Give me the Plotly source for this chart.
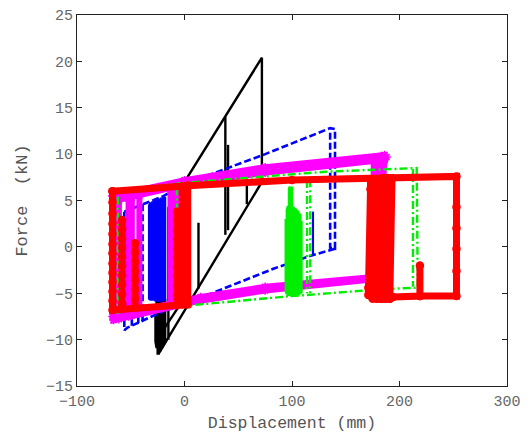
import plotly.graph_objects as go

N = None
# ---- data (displacement mm, force kN) ----
black_x = [-24, 72, 72, -15, -15, N, 38, 38, N, 40.5, 40.5, N, 58, 58, N, 13, 13, N,
           -27, -27, -26, -26, -25, -25, -24, -24, -23, -23, -22, -22, -21, -21,
           -20, -20, -19, -19, -18, -18, N, -20, -4]
black_y = [-11.5, 7.0, 20.4, 4.2, -10.0, N, 14.0, 1.3, N, 11.0, 1.8, N, 6.6, 4.6, N, 2.6, -4.5, N,
           -6.2, -10.2, -10.9, -5.9, -5.8, -11.5, -11.5, -5.8, -5.8, -11.3, -11.1, -5.7, -5.7, -10.9,
           -10.7, -5.6, -5.6, -10.5, -10.3, -5.6, N, -9.0, -6.2]

# blue: main loop (dashed)
blue_x = [-56, -21, 3, 75, 135.5, 140, 140, 135.5, 135.5, N,
          140, 119, 84, 14.6, -4, -53, -56, -56, N,
          -49, -49, N, -43, -43, N, -39, -39]
blue_y = [3.8, 5.4, 6.9, 10.0, 12.8, 12.7, -0.2, -0.1, 12.5, N,
          -0.2, -0.9, -2.3, -5.5, -6.1, -8.7, -9.0, 3.8, N,
          4.1, -8.5, N, 4.4, -8.2, N, 4.6, -8.0]
# blue: overlapping repeated small cycles (appear solid)
blue_dense_x = [-33, -33, -32, -32, -31, -31, -30, -30, -29, -29, -28, -28, -27, -27,
                -26, -26, -25, -25, -24, -24, -23, -23, -22, -22, -21, -21, -20, -20,
                -19, -19, -18, -18, N, 119.5, 119.5]
blue_dense_y = [4.6, -5.6, -5.7, 4.7, 4.7, -5.7, -5.7, 4.8, 4.8, -5.7, -5.7, 4.9, 4.9, -5.8,
                -5.8, 5.0, 5.0, -5.8, -5.8, 5.1, 5.1, -5.8, -5.8, 5.2, 5.2, -5.8, -5.8, 5.3,
                5.3, -5.7, -5.7, 5.4, N, 3.8, -0.9]

magenta_x = [-67, 0, 75, 186, 181, 75, 15, -67, -67, N,
             -64, 0, 75, 180, 176, 75, 15, -66, -64, N,
             -61, -61, N, -52, -52, N, -49, -49, N, -42, -42, N,
             -13, -13, -10, -10, -7, -7, -4, -4, -1, -1, N,
             176, 176, N, 183, 183, 188]
magenta_y = [5.5, 7.2, 8.6, 9.9, -3.2, -4.3, -5.4, -7.5, 5.5, N,
             5.0, 6.7, 8.0, 9.3, -3.5, -4.7, -5.8, -7.9, 5.0, N,
             5.0, -7.8, N, 5.2, -7.5, N, 5.3, -7.4, N, 5.5, -7.2, N,
             6.1, -6.3, -6.2, 6.2, 6.3, -6.1, -6.0, 6.4, 6.5, -5.9, N,
             9.5, 6.6, N, 9.8, 8.0, 9.7]

green_x = [-67, 0, 75, 131, 216, 217, 196, 168, 112, 100, 15, -67, -67, N,
           212.5, 212.5, N, 100, 100, N,
           114, 114, N, 117, 117, N, -7, -7, N, -62, -62]
green_y = [6.0, 6.9, 7.6, 8.1, 8.5, -4.4, -4.5, -4.7, -5.2, -5.3, -6.2, -7.0, 6.0, N,
           8.4, -4.3, N, 6.5, -5.3, N,
           7.2, -5.0, N, 7.3, -5.0, N, 6.4, -6.2, N, 5.4, -7.2]
green_dense_x = [94, 94, 95, 95, 96, 96, 97, 97, 98, 98, 99, 99, 100, 100, 101, 101,
                 102, 102, 103, 103, 104, 104, 105, 105, 106, 106, 107, 107, 108, 108, 109, 109]
green_dense_y = [3.0, -4.8, -5.1, 4.0, 4.4, -5.2, -5.2, 6.3, 6.5, -5.2, -5.3, 4.4, 6.4, -5.3, -5.3, 4.3,
                 4.2, -5.3, -5.2, 4.1, 4.0, -5.2, -5.2, 3.9, 3.8, -5.1, -5.1, 3.6, 3.4, -5.0, -4.9, 2.8]

red_x = [-67, 3, 100, 253, 253, 253, 253, 253, 253, 219, 219, 219, 194, N,
         3, 3, -67, -67, -67, -67, -67, -67, -67, -67, -67, -67, -67, -67, -67, N,
         -58, -58, -58, -58, -58, -58, -58, -58, -58, -58, -58, N,
         -46, -46, -46, -46, -46, -46, -46, -46, N,
         -7, -7, -7, -7, -7, -7, -7, -7, -7, -7, -7, N, -2, -2, N,
         171, 171, 173, 173, 175, 175, 177, 177, 179, 179, 181, 181, 183, 183,
         185, 185, 187, 187, 189, 189, 191, 191, 193, 193, 195]
red_y = [6.0, 6.6, 7.2, 7.6, 4.3, 2.0, -0.2, -2.6, -5.3, -5.3, -2.0, -5.3, -5.4, N,
         6.6, -6.2, -6.8, -5.8, -4.8, -3.8, -2.8, -1.8, -0.7, 0.3, 1.4, 2.5, 3.6, 4.8, 6.0, N,
         2.9, 1.9, 0.9, -0.1, -1.1, -2.1, -3.1, -4.1, -5.1, -6.1, -6.7, N,
         0.4, -0.6, -1.6, -2.6, -3.6, -4.6, -5.6, -6.6, N,
         3.8, 2.8, 1.8, 0.8, -0.2, -1.2, -2.2, -3.2, -4.2, -5.2, -6.3, N, 6.5, -6.2,
         4.0, -4.4, -5.2, 6.2, 7.2, -5.5, -5.6, 7.3, 7.3, -5.6, -5.6, 7.3, 7.3, -5.6,
         -5.6, 7.4, 7.4, -5.6, -5.6, 7.4, 7.4, -5.6, -5.6, 7.4, 7.4]

x_ticks = [-100, 0, 100, 200, 300]
y_ticks = [-15, -10, -5, 0, 5, 10, 15, 20, 25]

fig = go.Figure()
fig.add_trace(go.Scatter(x=black_x, y=black_y, mode="lines",
                         line=dict(color="black", width=2.4)))
fig.add_trace(go.Scatter(x=blue_x, y=blue_y, mode="lines",
                         line=dict(color="#0000ff", width=2.6, dash="7px,3px")))
fig.add_trace(go.Scatter(x=blue_dense_x, y=blue_dense_y, mode="lines",
                         line=dict(color="#0000ff", width=2.2)))
fig.add_trace(go.Scatter(x=magenta_x, y=magenta_y, mode="lines+markers",
                         line=dict(color="#ff00ff", width=6),
                         marker=dict(symbol="asterisk-open", size=7,
                                     line=dict(color="#ff00ff", width=1.5))))
fig.add_trace(go.Scatter(x=green_x, y=green_y, mode="lines",
                         line=dict(color="#00ee00", width=2.4, dash="8px,3px,2px,3px")))
fig.add_trace(go.Scatter(x=green_dense_x, y=green_dense_y, mode="lines",
                         line=dict(color="#00ee00", width=2)))
fig.add_trace(go.Scatter(x=red_x, y=red_y, mode="lines+markers",
                         line=dict(color="#ff0000", width=7),
                         marker=dict(symbol="circle", size=8.5, color="#ff0000")))

axis_common = dict(
    showgrid=False, zeroline=False, showline=True, linecolor="#222", linewidth=1,
    mirror="allticks", ticks="inside", ticklen=5, tickcolor="#222", automargin=False,
    tickfont=dict(family="Liberation Mono", size=15, color="#666"),
)
fig.update_xaxes(range=[-100, 300], tickvals=x_ticks, ticklabelstandoff=1, **axis_common,
                 title=dict(text="Displacement (mm)", standoff=8,
                            font=dict(family="Liberation Mono", size=16.5, color="#555")))
fig.update_yaxes(range=[-15, 25], tickvals=y_ticks, **axis_common,
                 title=dict(text="Force\u00a0\u00a0(kN)\u00a0\u00a0", standoff=14,
                            font=dict(family="Liberation Mono", size=17, color="#555")))
fig.update_layout(width=530, height=433, margin=dict(l=77, r=23, t=15, b=47),
                  paper_bgcolor="white", plot_bgcolor="white", showlegend=False)
fig.write_html("out.html")
